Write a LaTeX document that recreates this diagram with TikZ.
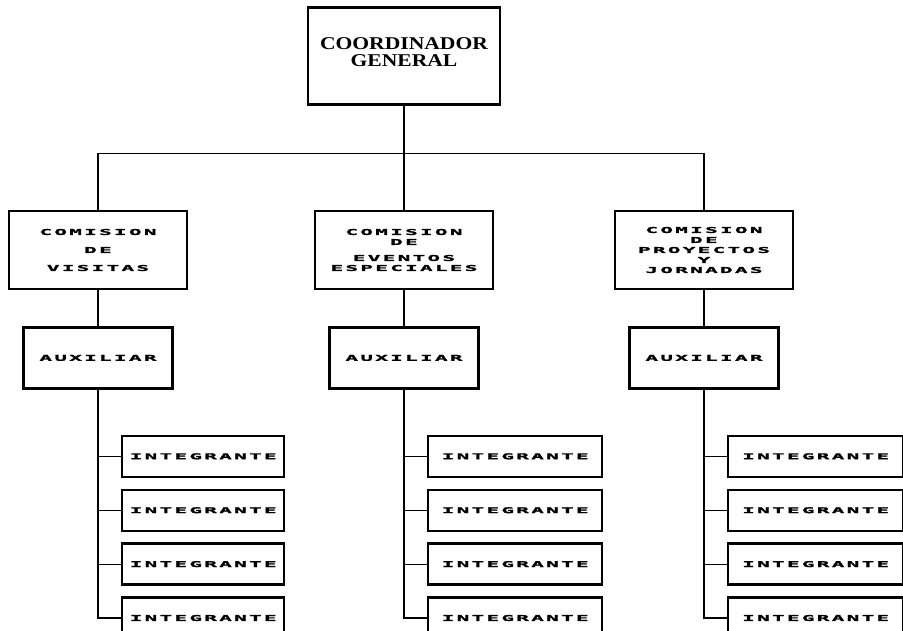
\documentclass[tikz,border=0pt]{standalone}
\usepackage{fontspec}
\usepackage{tikz}
\usetikzlibrary{positioning,calc}
\newfontfamily\jefefont{Liberation Serif Bold}[FakeStretch=1.2]
\newfontfamily\blockfont{DejaVu Sans Mono Bold}[FakeStretch=2.6,LetterSpace=30,FakeBold=2.5]

\begin{document}
\begin{tikzpicture}[
  x=1pt, y=1pt,
  node distance=36pt,
  jefe/.style={draw, line width=2.4pt, minimum width=192pt, minimum height=97pt, align=center, text depth=8pt, font=\jefefont\fontsize{18}{17}\selectfont},
  comision/.style={draw, line width=2.4pt, minimum width=178pt, minimum height=78pt, align=center, font=\blockfont\fontsize{8}{10}\selectfont},
  aux/.style={draw, line width=2.4pt, minimum width=149pt, minimum height=61pt, font=\blockfont\fontsize{8}{10}\selectfont},
  integ/.style={draw, line width=2.4pt, minimum height=41pt, font=\blockfont\fontsize{8}{10}\selectfont},
  link/.style={line width=1.2pt}
]
\useasboundingbox (0,0) rectangle (903,-630);

\node[jefe] (coord) at (404,-56) {COORDINADOR\\GENERAL};

\node[comision] (visitas) at (98,-250) {COMISION\\[8pt]DE\\[8pt]VISITAS};
\node[comision] (eventos) at (404,-250) {COMISION\\DE\\[6pt]EVENTOS\\ESPECIALES};
\node[comision] (proyectos) at (704,-250) {COMISION\\DE\\PROYECTOS\\Y\\JORNADAS};

\node[aux, below=of visitas] (auxvisitas) {AUXILIAR};
\node[aux, below=of eventos] (auxeventos) {AUXILIAR};
\node[aux, below=of proyectos] (auxproyectos) {AUXILIAR};

% bus under the coordinator
\coordinate (bus) at ($(coord.south)+(0,-48)$);
\draw[link] (coord.south) -- (bus);
\draw[link] (visitas.north) |- (bus) -| (proyectos.north);
\draw[link] (bus) -- (eventos.north);

% each commission: auxiliar and its four integrantes
\foreach \c/\w in {visitas/162,eventos/174,proyectos/175}{
  \draw[link] (\c) -- (aux\c);
  \node[integ, minimum width=\w pt, anchor=north west] (\c1) at ($(aux\c.south)+(23,-45)$) {INTEGRANTE};
  \node[integ, minimum width=\w pt, below=10.5pt of \c1] (\c2) {INTEGRANTE};
  \node[integ, minimum width=\w pt, below=10.5pt of \c2] (\c3) {INTEGRANTE};
  \node[integ, minimum width=\w pt, below=10.5pt of \c3] (\c4) {INTEGRANTE};
  \draw[link] (aux\c) |- (\c4);
  \foreach \k in {1,2,3}
    \draw[link] (\c\k.west) -- (\c\k.west -| aux\c.south);
}
\end{tikzpicture}
\end{document}
